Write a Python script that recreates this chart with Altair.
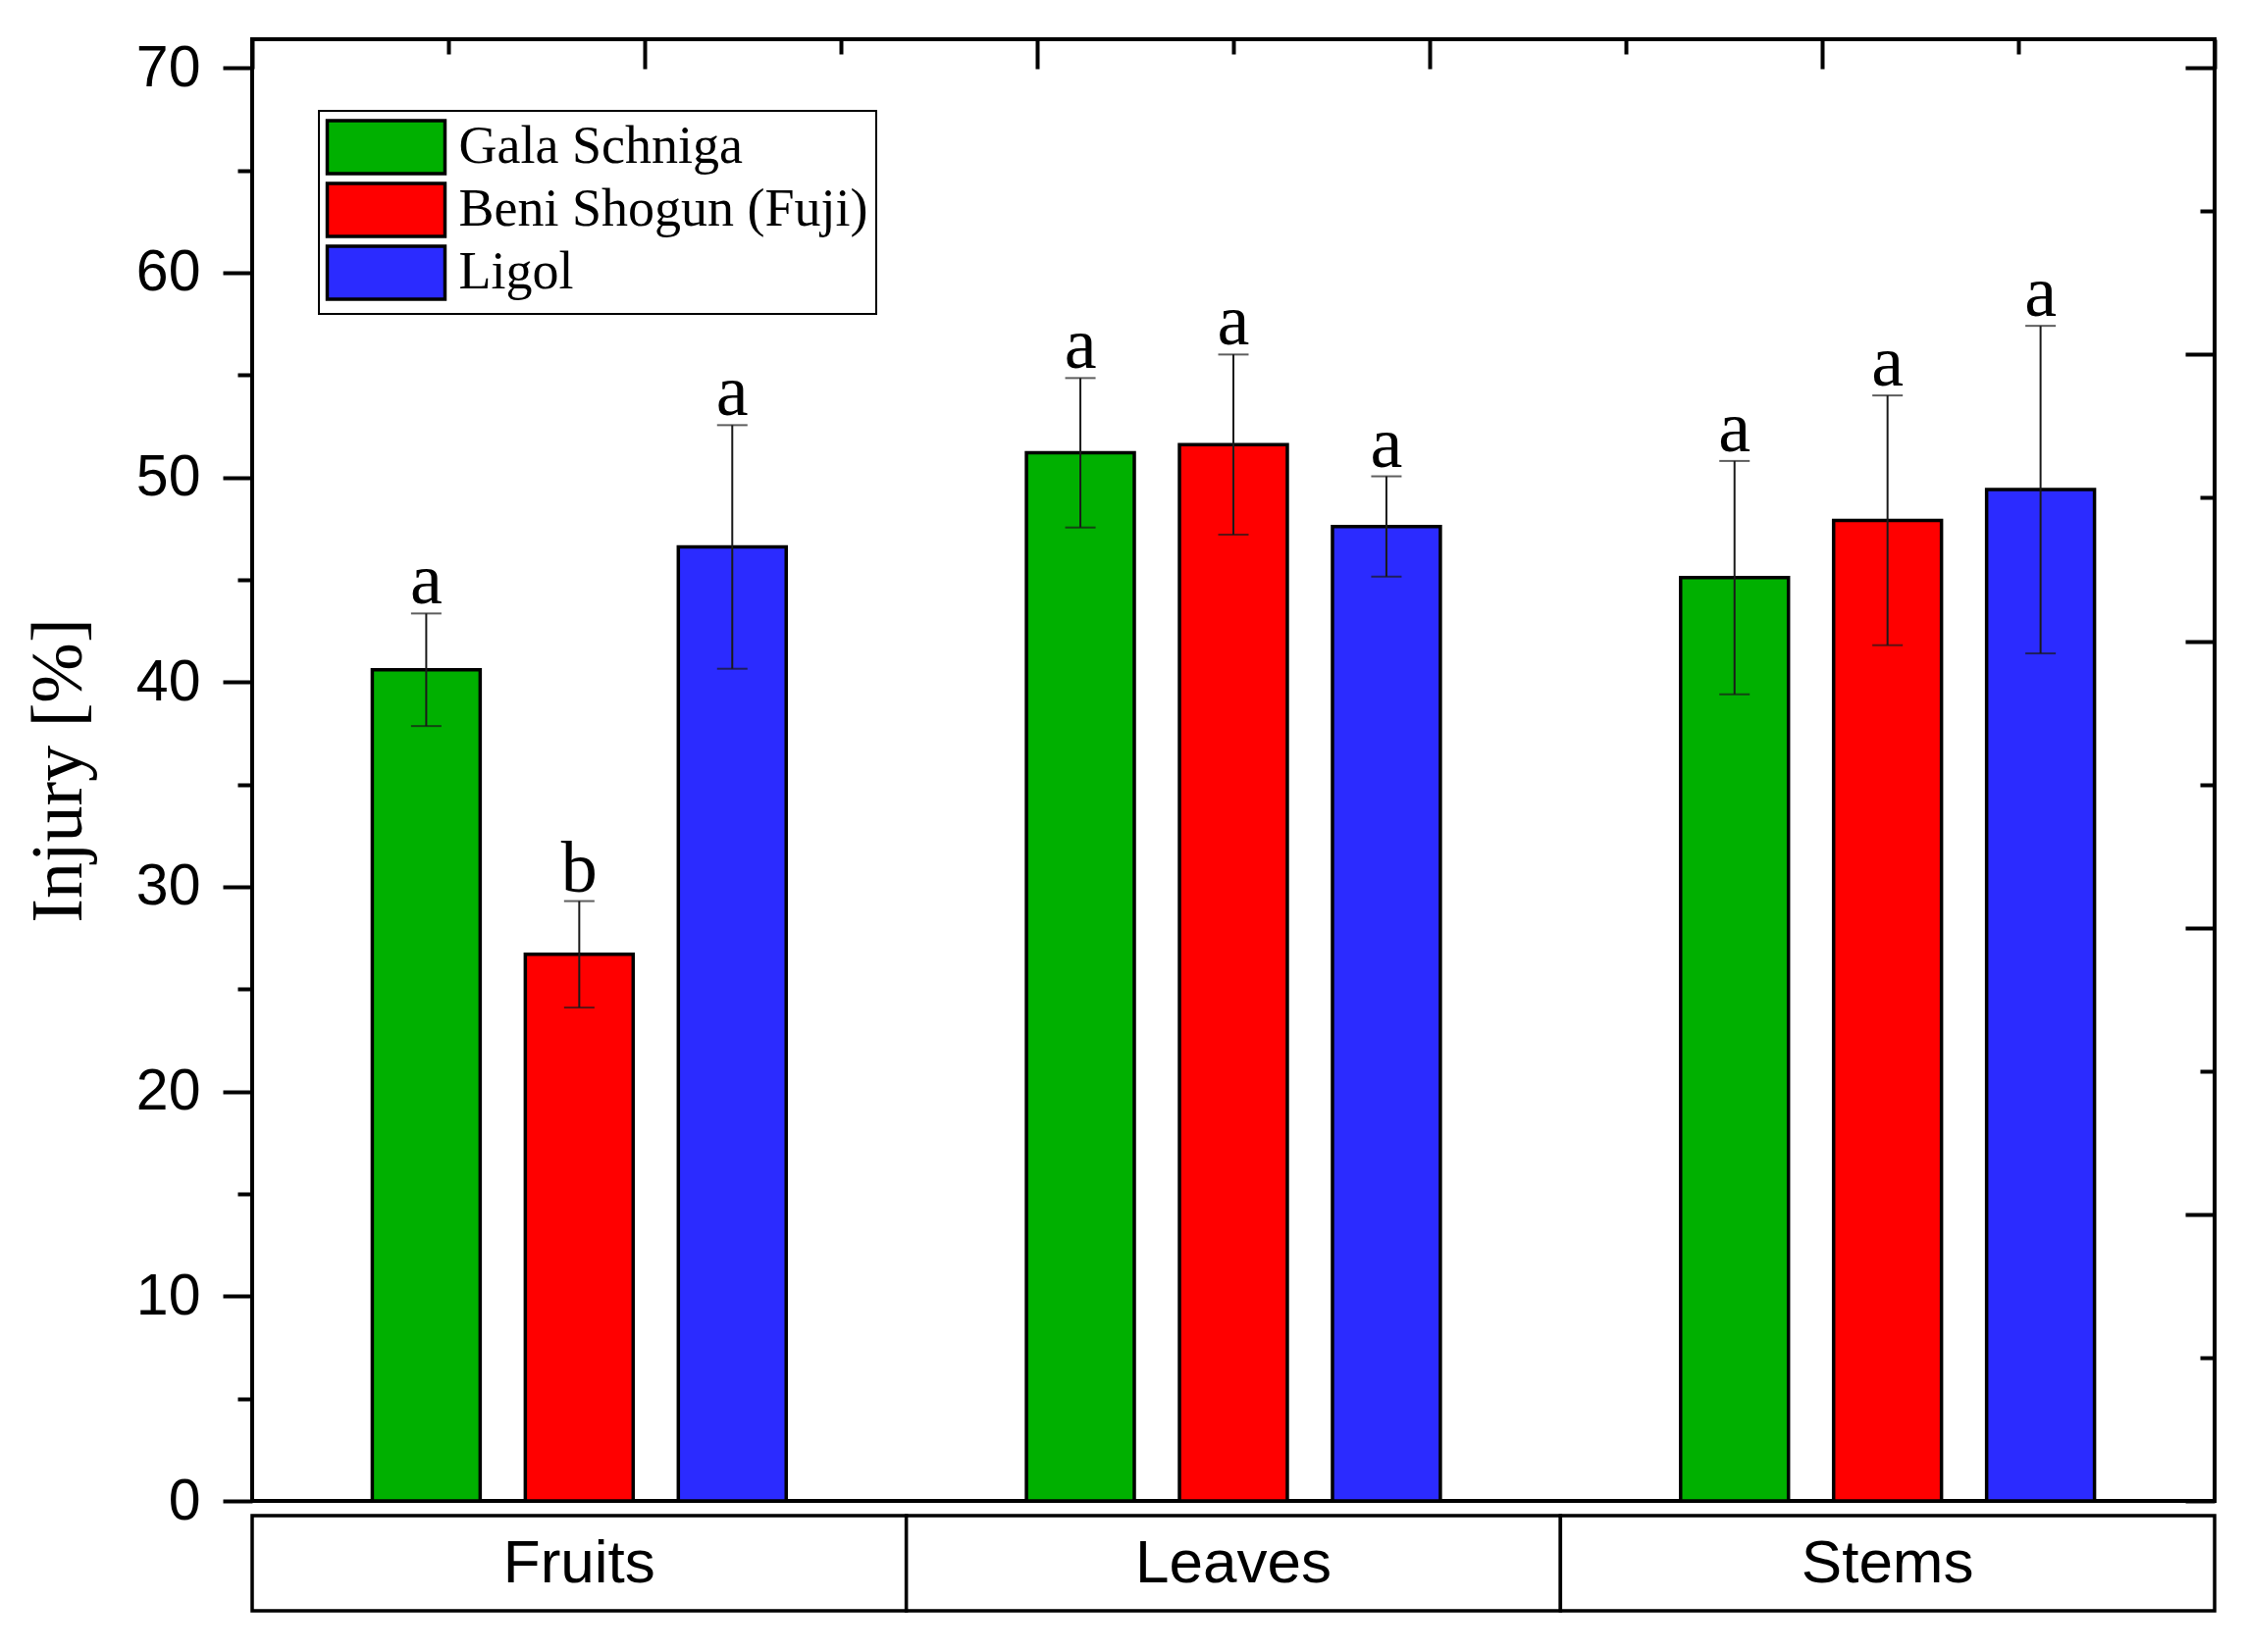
import altair as alt
import pandas as pd

# ---- data ----
parts = ["Fruits", "Leaves", "Stems"]
cultivars = ["Gala Schniga", "Beni Shogun (Fuji)", "Ligol"]
colors = ["#00B000", "#FF0000", "#2B2BFF"]

fruits_mean = [40.6, 26.7, 46.6]
leaves_mean = [51.2, 51.6, 47.6]
stems_mean = [45.1, 47.9, 49.4]

fruits_err = [2.75, 2.6, 5.95]
leaves_err = [3.65, 4.4, 2.45]
stems_err = [5.7, 6.1, 8.0]

fruits_letter = ["a", "b", "a"]
leaves_letter = ["a", "a", "a"]
stems_letter = ["a", "a", "a"]

y_max = 71.4
left_ticks = list(range(0, 71, 5))
right_ticks = list(range(0, 71, 7))
top_ticks = list(range(0, 11))

# ---- table ----
rows = []
for part, means, errs, letters in [
    ("Fruits", fruits_mean, fruits_err, fruits_letter),
    ("Leaves", leaves_mean, leaves_err, leaves_letter),
    ("Stems", stems_mean, stems_err, stems_letter),
]:
    for c, m, e, l in zip(cultivars, means, errs, letters):
        rows.append({"part": part, "cultivar": c, "mean": m,
                     "lo": m - e, "hi": m + e, "letter": l})
df = pd.DataFrame(rows)

W, H = 2000, 1490

x_enc = alt.X("part:N", sort=parts,
              scale=alt.Scale(domain=parts, paddingInner=0, paddingOuter=0),
              axis=None)
xo_enc = alt.XOffset("cultivar:N", sort=cultivars,
                     scale=alt.Scale(domain=cultivars, paddingInner=0.295,
                                     paddingOuter=0.785))
y_scale = alt.Scale(domain=[0, y_max], nice=False, zero=True)

base = alt.Chart(df)

bars = base.mark_bar(stroke="black", strokeWidth=3.5).encode(
    x=x_enc,
    xOffset=xo_enc,
    y=alt.Y("mean:Q", scale=y_scale, title="Injury [%]",
            axis=alt.Axis(
                orient="left", values=left_ticks, grid=False, domain=False,
                tickSize={"condition": {"test": "datum.value % 10 === 0", "value": 30},
                          "value": 15},
                tickWidth=4, tickColor="black",
                labelExpr="datum.value % 10 === 0 ? datum.label : ''",
                labelFont="Liberation Sans", labelFontSize=59, labelColor="black",
                labelPadding=23,
                titleFont="Liberation Serif", titleFontSize=74,
                titleFontWeight="normal", titleColor="black", titlePadding=40)),
    color=alt.Color("cultivar:N", sort=cultivars,
                    scale=alt.Scale(domain=cultivars, range=colors),
                    legend=alt.Legend(
                        title=None, orient="none", legendX=68, legendY=73,
                        symbolType="M-2.222,-1H2.222V1H-2.222Z",
                        symbolSize=2916, symbolStrokeColor="black",
                        symbolStrokeWidth=3.5, symbolOffset=31.5,
                        symbolOpacity=1,
                        labelOffset=45, labelFont="Liberation Serif",
                        labelFontSize=54, labelColor="black", labelLimit=1000,
                        padding=8, rowPadding=-4, strokeColor="black",
                        fillColor="white")),
)

err_color = "#1a1a1a"
rules = base.mark_rule(color=err_color, strokeWidth=2).encode(
    x=x_enc, xOffset=xo_enc,
    y=alt.Y("lo:Q", scale=y_scale, axis=None), y2="hi:Q")
caps_hi = base.mark_tick(color=err_color, thickness=2, size=31).encode(
    x=x_enc, xOffset=xo_enc, y=alt.Y("hi:Q", scale=y_scale, axis=None))
caps_lo = base.mark_tick(color=err_color, thickness=2, size=31).encode(
    x=x_enc, xOffset=xo_enc, y=alt.Y("lo:Q", scale=y_scale, axis=None))
letters = base.mark_text(font="Liberation Serif", fontSize=74,
                         baseline="alphabetic", dy=-10, color="black").encode(
    x=x_enc, xOffset=xo_enc,
    y=alt.Y("hi:Q", scale=y_scale, axis=None), text="letter:N")

right_axis = alt.Chart(pd.DataFrame({"r": right_ticks})).mark_point(opacity=0).encode(
    y=alt.Y("r:Q", scale=y_scale,
            axis=alt.Axis(orient="left", offset=-W, values=right_ticks,
                          tickSize={"condition": {"test": "datum.value % 14 === 0",
                                                  "value": 30}, "value": 15},
                          tickWidth=4, tickColor="black", labels=False,
                          domain=False, grid=False, title=None)))

top_axis = alt.Chart(pd.DataFrame({"t": top_ticks})).mark_point(opacity=0).encode(
    x=alt.X("t:Q", scale=alt.Scale(domain=[0, 10], nice=False, zero=False),
            axis=alt.Axis(orient="bottom", offset=-H, values=top_ticks,
                          tickSize={"condition": {"test": "datum.value % 2 === 0",
                                                  "value": 30}, "value": 15},
                          tickWidth=4, tickColor="black", labels=False,
                          domain=False, grid=False, title=None)))

inner = alt.layer(bars, rules, caps_hi, caps_lo, letters, right_axis).resolve_axis(
    y="independent")
top = alt.layer(inner, top_axis).resolve_scale(x="independent").resolve_axis(
    y="independent").properties(
    width=W, height=H,
    view=alt.ViewBackground(stroke="black", strokeWidth=4))

box_df = pd.DataFrame({"part": parts})
box_x = alt.X("part:N", sort=parts,
              scale=alt.Scale(domain=parts, paddingInner=0, paddingOuter=0),
              axis=None)
boxes = alt.Chart(box_df).mark_rect(fill="white", stroke="black",
                                    strokeWidth=3.5).encode(x=box_x)
box_labels = alt.Chart(box_df).mark_text(font="Liberation Sans", fontSize=62,
                                         color="black").encode(x=box_x, text="part:N")
bottom = alt.layer(boxes, box_labels).properties(width=W, height=97)

chart = alt.vconcat(top, bottom, spacing=15, bounds="flush").properties(
    padding={"left": 13, "top": 28, "right": 10, "bottom": 10},
    background="white",
).configure_view(stroke="transparent").configure_legend(strokeWidth=2)

chart.save("out.html", embed_options={"renderer": "svg", "actions": False})
